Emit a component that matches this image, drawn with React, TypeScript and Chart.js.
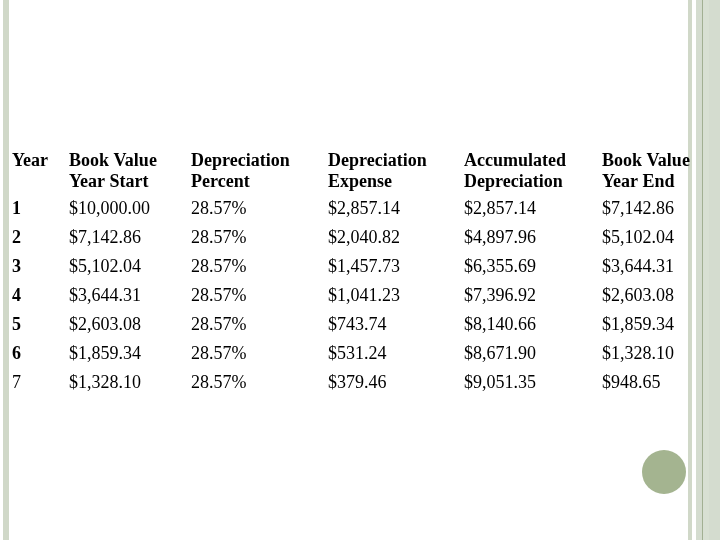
import React, { useEffect, useRef } from "react";
import { Chart, registerables } from "chart.js";

Chart.register(...registerables);

const headerLine1 = ["Year", "Book Value", "Depreciation", "Depreciation", "Accumulated", "Book Value"];
const headerLine2 = ["", "Year Start", "Percent", "Expense", "Depreciation", "Year End"];
const years = ["1", "2", "3", "4", "5", "6", "7"];
const bookStart = ["$10,000.00", "$7,142.86", "$5,102.04", "$3,644.31", "$2,603.08", "$1,859.34", "$1,328.10"];
const deprPercent = ["28.57%", "28.57%", "28.57%", "28.57%", "28.57%", "28.57%", "28.57%"];
const deprExpense = ["$2,857.14", "$2,040.82", "$1,457.73", "$1,041.23", "$743.74", "$531.24", "$379.46"];
const accumDepr = ["$2,857.14", "$4,897.96", "$6,355.69", "$7,396.92", "$8,140.66", "$8,671.90", "$9,051.35"];
const bookEnd = ["$7,142.86", "$5,102.04", "$3,644.31", "$2,603.08", "$1,859.34", "$1,328.10", "$948.65"];

// layout (scale units = page pixels)
const COL_X = [12, 69, 191, 328, 464, 602];
const HEAD_Y = [166, 187];
const ROW_Y0 = 214;
const ROW_STEP = 29;

const FONT = '"Liberation Serif", "Times New Roman", serif';

export default function App() {
  const ref = useRef<HTMLCanvasElement>(null);
  useEffect(() => {
    if (!ref.current) return;
    const columns = [years, bookStart, deprPercent, deprExpense, accumDepr, bookEnd];
    type Cell = { x: number; y: number; text: string; bold: boolean };
    const cells: Cell[] = [];
    headerLine1.forEach((t, c) => cells.push({ x: COL_X[c], y: HEAD_Y[0], text: t, bold: true }));
    headerLine2.forEach((t, c) => { if (t) cells.push({ x: COL_X[c], y: HEAD_Y[1], text: t, bold: true }); });
    columns.forEach((col, c) =>
      col.forEach((t, r) =>
        cells.push({ x: COL_X[c], y: ROW_Y0 + r * ROW_STEP, text: t, bold: c === 0 && r < 6 })
      )
    );

    const slidePlugin = {
      id: "slide",
      beforeDatasetsDraw(chart: any) {
        const ctx = chart.ctx;
        const xs = chart.scales.x;
        const ys = chart.scales.y;
        const px = (v: number) => xs.getPixelForValue(v);
        const py = (v: number) => ys.getPixelForValue(v);
        const h = py(540) - py(0);
        ctx.save();
        // left frame bar
        ctx.fillStyle = "#d0d8c8";
        ctx.fillRect(px(3), py(0), px(9) - px(3), h);
        // right frame
        ctx.fillRect(px(688), py(0), px(692) - px(688), h);
        ctx.fillStyle = "#d4dccf";
        ctx.fillRect(px(696), py(0), px(720) - px(696), h);
        ctx.fillStyle = "#d8e0d3";
        ctx.fillRect(px(703), py(0), px(709) - px(703), h);
        ctx.fillStyle = "#a2b093";
        ctx.fillRect(px(702), py(0), px(703) - px(702), h);
        // circle
        ctx.fillStyle = "#a4b490";
        ctx.beginPath();
        ctx.arc(px(664), py(472), 22, 0, Math.PI * 2);
        ctx.fill();
        ctx.restore();
      },
      afterDatasetsDraw(chart: any) {
        const ctx = chart.ctx;
        const meta = chart.getDatasetMeta(0);
        ctx.save();
        ctx.fillStyle = "#000000";
        ctx.textBaseline = "alphabetic";
        ctx.textAlign = "left";
        meta.data.forEach((el: any, i: number) => {
          const c = cells[i];
          ctx.font = (c.bold ? "bold " : "") + "18px " + FONT;
          ctx.fillText(c.text, el.x, el.y);
        });
        ctx.restore();
      },
    };

    const chart = new Chart(ref.current, {
      type: "scatter",
      data: {
        datasets: [
          {
            data: cells.map((c) => ({ x: c.x, y: c.y })),
            pointRadius: 0,
            pointHoverRadius: 0,
          },
        ],
      },
      options: {
        animation: false,
        responsive: false,
        devicePixelRatio: 1,
        layout: { padding: 0 },
        plugins: { legend: { display: false }, tooltip: { enabled: false } },
        events: [],
        scales: {
          x: { type: "linear", min: 0, max: 720, display: false },
          y: { type: "linear", min: 0, max: 540, reverse: true, display: false },
        },
      },
      plugins: [slidePlugin],
    });
    return () => chart.destroy();
  }, []);
  return (
    <canvas
      ref={ref}
      width={720}
      height={540}
      style={{ position: "fixed", left: 0, top: 0, width: 720, height: 540, background: "#ffffff" }}
    />
  );
}
